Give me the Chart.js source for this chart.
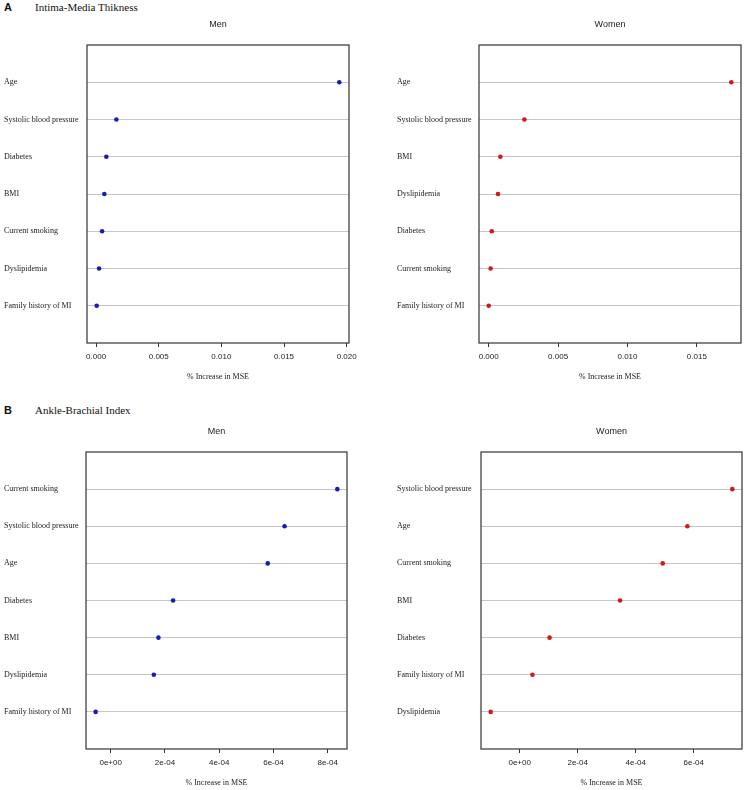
<!DOCTYPE html>
<html lang="en">
<head>
    <meta charset="UTF-8">
    <title>Variable importance - IMT and ABI</title>
    <script src="https://cdn.jsdelivr.net/npm/chart.js@4.4.1/dist/chart.umd.min.js"></script>
    <style>
        body { margin: 0; background: #fff; }
        #page { position: relative; width: 747px; height: 790px; overflow: hidden; }
        #page canvas { position: absolute; }
        .letter { position: absolute; left: 4px; font: bold 11px "Liberation Sans", Arial, sans-serif; color: #111; }
        .heading { position: absolute; left: 35px; font: 11px "Liberation Serif", "Times New Roman", serif; color: #111; }
    </style>
</head>
<body>

<div id="page">
    <div class="letter" style="top:1px">A</div>
    <div class="heading" style="top:1px">Intima-Media Thikness</div>
    <div class="letter" style="top:404px">B</div>
    <div class="heading" style="top:404px">Ankle-Brachial Index</div>

    <canvas id="imtMen" width="373" height="384" style="left:0;top:0"></canvas>
    <canvas id="imtWomen" width="354" height="384" style="left:393px;top:0"></canvas>
    <canvas id="abiMen" width="373" height="382" style="left:0;top:408px"></canvas>
    <canvas id="abiWomen" width="354" height="382" style="left:393px;top:408px"></canvas>
</div>

<script>
    // A - Intima-media thickness
    const imtMenLabels = ['Age', 'Systolic blood pressure', 'Diabetes', 'BMI', 'Current smoking', 'Dyslipidemia', 'Family history of MI'];
    const imtMenValues = [0.01941, 0.00162, 0.00082, 0.00066, 0.00048, 0.00024, 0.00005];
    const imtWomenLabels = ['Age', 'Systolic blood pressure', 'BMI', 'Dyslipidemia', 'Diabetes', 'Current smoking', 'Family history of MI'];
    const imtWomenValues = [0.01748, 0.00257, 0.00084, 0.00067, 0.00022, 0.00014, 0.00000];
    const imtMenTicks = [0, 0.005, 0.010, 0.015, 0.020];
    const imtWomenTicks = [0, 0.005, 0.010, 0.015];
    const imtMenTickLabels = ['0.000', '0.005', '0.010', '0.015', '0.020'];
    const imtWomenTickLabels = ['0.000', '0.005', '0.010', '0.015'];

    // B - Ankle-brachial index
    const abiMenLabels = ['Current smoking', 'Systolic blood pressure', 'Age', 'Diabetes', 'BMI', 'Dyslipidemia', 'Family history of MI'];
    const abiMenValues = [8.355e-4, 6.41e-4, 5.79e-4, 2.30e-4, 1.76e-4, 1.59e-4, -0.554e-4];
    const abiWomenLabels = ['Systolic blood pressure', 'Age', 'Current smoking', 'BMI', 'Diabetes', 'Family history of MI', 'Dyslipidemia'];
    const abiWomenValues = [7.33e-4, 5.78e-4, 4.93e-4, 3.46e-4, 1.03e-4, 0.44e-4, -1.00e-4];
    const abiMenTicks = [0, 2e-4, 4e-4, 6e-4, 8e-4];
    const abiWomenTicks = [0, 2e-4, 4e-4, 6e-4];
    const abiMenTickLabels = ['0e+00', '2e-04', '4e-04', '6e-04', '8e-04'];
    const abiWomenTickLabels = ['0e+00', '2e-04', '4e-04', '6e-04'];

    const MEN_COLOR = '#1a1ab4';
    const WOMEN_COLOR = '#d01818';

    Chart.defaults.color = '#222';

    // box round the plot region and the Men / Women heading above it
    const panelFrame = {
        id: 'panelFrame',
        afterDatasetsDraw(chart, args, opts) {
            const { ctx, chartArea: a } = chart;
            ctx.save();
            ctx.strokeStyle = '#333';
            ctx.lineWidth = 1.2;
            ctx.strokeRect(a.left, a.top, a.right - a.left, a.bottom - a.top);
            ctx.fillStyle = '#222';
            ctx.font = '9px "Liberation Sans", Arial, sans-serif';
            ctx.textAlign = 'center';
            ctx.textBaseline = 'middle';
            ctx.fillText(opts.heading, (a.left + a.right) / 2, a.top - 20);
            ctx.restore();
        }
    };

    function makePanel(id, labels, values, ticks, tickLabels, color, heading, layout) {
        // R style range: data range stretched by 4% on each side
        const lo = Math.min(...values), hi = Math.max(...values);
        const ext = (hi - lo) * 0.04;

        return new Chart(document.getElementById(id), {
            type: 'scatter',
            data: {
                datasets: [{
                    data: values.map((v, i) => ({ x: v, y: i + 1 })),
                    backgroundColor: color,
                    borderColor: color,
                    pointRadius: 2.3,
                    pointBorderWidth: 0
                }]
            },
            options: {
                responsive: false,
                animation: false,
                layout: { padding: { left: 4, top: layout.top, right: layout.right, bottom: 0 } },
                plugins: {
                    legend: { display: false },
                    tooltip: { enabled: false },
                    panelFrame: { heading: heading }
                },
                scales: {
                    x: {
                        type: 'linear',
                        min: lo - ext,
                        max: hi + ext,
                        afterBuildTicks: s => { s.ticks = ticks.map(v => ({ value: v })); },
                        afterFit: s => { s.height = layout.xHeight; },
                        grid: { drawOnChartArea: false, drawTicks: true, tickLength: 4, color: '#333' },
                        border: { display: false },
                        ticks: {
                            padding: 5,
                            maxRotation: 0,
                            autoSkip: false,
                            font: { family: '"Liberation Sans", Arial, sans-serif', size: 8 },
                            callback: (v, i) => tickLabels[i]
                        },
                        title: {
                            display: true,
                            text: '% Increase in MSE',
                            font: { family: '"Liberation Serif", "Times New Roman", serif', size: 8 },
                            padding: { top: 0, bottom: 2 }
                        }
                    },
                    y: {
                        type: 'linear',
                        reverse: true,
                        min: 0,
                        max: labels.length + 1,
                        afterBuildTicks: s => { s.ticks = labels.map((_, i) => ({ value: i + 1 })); },
                        afterFit: s => { s.width = layout.yWidth; },
                        grid: { color: '#c6c6c6', lineWidth: 1, drawTicks: false },
                        border: { display: false },
                        ticks: {
                            crossAlign: 'far',
                            autoSkip: false,
                            padding: 0,
                            font: { family: '"Liberation Serif", "Times New Roman", serif', size: 8 },
                            callback: v => labels[v - 1]
                        }
                    }
                }
            },
            plugins: [panelFrame]
        });
    }

    makePanel('imtMen', imtMenLabels, imtMenValues, imtMenTicks, imtMenTickLabels, MEN_COLOR, 'Men',
        { top: 45, right: 24, yWidth: 83, xHeight: 41 });
    makePanel('imtWomen', imtWomenLabels, imtWomenValues, imtWomenTicks, imtWomenTickLabels, WOMEN_COLOR, 'Women',
        { top: 45, right: 6, yWidth: 82, xHeight: 41 });
    makePanel('abiMen', abiMenLabels, abiMenValues, abiMenTicks, abiMenTickLabels, MEN_COLOR, 'Men',
        { top: 44, right: 26, yWidth: 82, xHeight: 41 });
    makePanel('abiWomen', abiWomenLabels, abiWomenValues, abiWomenTicks, abiWomenTickLabels, WOMEN_COLOR, 'Women',
        { top: 44, right: 5, yWidth: 84, xHeight: 41 });
</script>

</body>
</html>
